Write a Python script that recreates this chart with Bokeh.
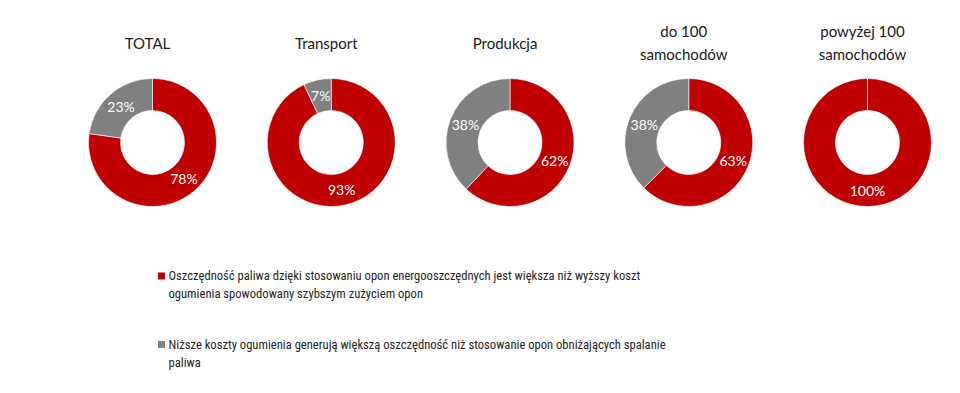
import math
from bokeh.plotting import figure
from bokeh.models import Range1d, ColumnDataSource
from bokeh.core.properties import value
from bokeh.embed import file_html
from bokeh.resources import INLINE

# ---- data ----
categories = ["TOTAL", "Transport", "Produkcja", "do 100\nsamochodów", "powyżej 100\nsamochodów"]
red_pct = [78, 93, 62, 63, 100]
gray_pct = [23, 7, 38, 38, 0]
series_names = [
    "Oszczędność paliwa dzięki stosowaniu opon energooszczędnych jest większa niż wyższy koszt\nogumienia spowodowany szybszym zużyciem opon",
    "Niższe koszty ogumienia generują większą oszczędność niż stosowanie opon obniżających spalanie\npaliwa",
]

# ---- style / layout ----
RED = "#C00000"
GRAY = "#808080"
W, H = 944, 377
X0, STEP = 152, 178.75          # canvas x of first donut centre, spacing
CY = H - 142                    # donut centre (data y, y up)
TITLE_Y = H - 42
OUTER, INNER, LABEL_R = 64, 32, 48
TITLE_FONT = value("Lato")
LEG_FONT = value("Roboto Condensed")

p = figure(width=W, height=H, output_backend="svg", toolbar_location=None,
           x_range=Range1d(0, W), y_range=Range1d(0, H), min_border=0)
p.axis.visible = False
p.grid.visible = False
p.outline_line_color = None
p.background_fill_color = "white"

wx, wy, ws, we, wc = [], [], [], [], []
lx, ly, lt, lxo, lyo = [], [], [], [], []
for i, (r, g) in enumerate(zip(red_pct, gray_pct)):
    cx = X0 + i * STEP
    tot = r + g
    fr = r / tot
    top = math.pi / 2
    # red slice clockwise from 12 o'clock
    span_r = 2 * math.pi * min(fr, 0.99999)
    wx.append(cx); wy.append(CY); ws.append(top); we.append(top - span_r); wc.append(RED)
    mid = fr * math.pi  # clockwise from top
    lx.append(cx); ly.append(CY); lt.append(f"{r}%")
    lxo.append(LABEL_R * math.sin(mid)); lyo.append(-LABEL_R * math.cos(mid))
    if g > 0:
        wx.append(cx); wy.append(CY); ws.append(top - 2 * math.pi * fr); we.append(top - 2 * math.pi); wc.append(GRAY)
        midg = 2 * math.pi * fr + (1 - fr) * math.pi
        lx.append(cx); ly.append(CY); lt.append(f"{g}%")
        lxo.append(LABEL_R * math.sin(midg)); lyo.append(-LABEL_R * math.cos(midg))

wsrc = ColumnDataSource(dict(x=wx, y=wy, s=ws, e=we, c=wc))
p.annular_wedge(x="x", y="y", inner_radius=INNER, outer_radius=OUTER,
                inner_radius_units="screen", outer_radius_units="screen",
                start_angle="s", end_angle="e", direction="clock",
                fill_color="c", line_color="white", line_width=0.6, source=wsrc)

lsrc = ColumnDataSource(dict(x=lx, y=ly, t=lt, xo=lxo, yo=lyo))
p.text(x="x", y="y", text="t", x_offset="xo", y_offset="yo", source=lsrc,
       text_align="center", text_baseline="middle", text_color="white",
       text_font=TITLE_FONT, text_font_size="14px")

tsrc = ColumnDataSource(dict(x=[X0 + i * STEP for i in range(len(categories))],
                             y=[TITLE_Y] * len(categories), t=categories))
p.text(x="x", y="y", text="t", source=tsrc, x_offset=-5,
       text_align="center", text_baseline="middle", text_color="#1a1a1a",
       text_font=TITLE_FONT, text_font_size="15px", text_line_height=1.33)

# legend
leg_y = [H - 275.5, H - 344]
p.scatter(x=[161, 161], y=leg_y, marker="square", size=7, color=[RED, GRAY], line_color=None)
p.text(x=[168, 168], y=[y + 8 for y in leg_y], text=series_names,
       text_align="left", text_baseline="top", text_color="#262626",
       text_font=LEG_FONT, text_font_size="12.6px", text_line_height=1.2)

open("out.html", "w").write(file_html(p, INLINE))
